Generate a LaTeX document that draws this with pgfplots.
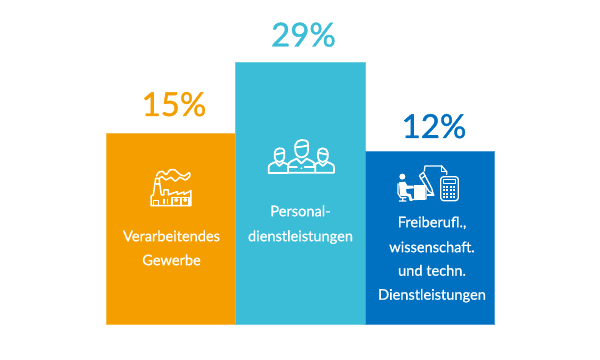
\documentclass[border=0pt]{standalone}
\usepackage{pgfplots}
\pgfplotsset{compat=1.18}
\usepackage{fontspec}
\setmainfont{Lato}
\definecolor{corange}{HTML}{F59E00}
\definecolor{ccyan}{HTML}{3BBDD8}
\definecolor{cblue}{HTML}{0070C0}
\newcommand{\cat}[2]{\node[text=white,font=\fontsize{14.6}{16}\selectfont\addfontfeature{FakeBold=0.8},anchor=center,inner sep=0pt] at (#1){\strut #2};}
\begin{document}
\begin{tikzpicture}[x=1pt,y=1pt]
\begin{axis}[
  at={(0pt,0pt)},anchor=south west,
  scale only axis,width=600pt,height=359pt,
  xmin=-1.3205,xmax=3.3127,ymin=-34.5,ymax=324.5,
  hide axis,clip=false,
  ybar,bar width=129.5pt,bar shift=0pt,
  nodes near coords,
  point meta=explicit symbolic,
  nodes near coords style={anchor=base,font=\fontsize{33}{36}\selectfont\addfontfeature{FakeBold=1.2},inner sep=0pt},
]
\addplot[fill=corange,draw=corange!70!white,line width=0.6pt,
  nodes near coords style={text=corange,xshift=3pt,yshift=17pt}]
  coordinates {(0,191.5) [15\%]};
\addplot[fill=ccyan,draw=ccyan!75!white,line width=0.6pt,
  nodes near coords style={text=ccyan,xshift=3pt,yshift=16pt}]
  coordinates {(1,262) [29\%]};
\addplot[fill=cblue,draw=cblue!70!white,line width=0.6pt,
  nodes near coords style={text=cblue,xshift=4pt,yshift=13.5pt}]
  coordinates {(2,173) [12\%]};
\end{axis}
\path (0pt,0pt) rectangle (600pt,359pt);
% category labels (pixel coordinates)
\begin{scope}[x=1pt,y=-1pt,shift={(0pt,359pt)}]
\cat{171.5,238}{Verarbeitendes}
\cat{171.5,262}{Gewerbe}
\cat{300.5,213}{Personal-}
\cat{300.5,238}{dienstleistungen}
\cat{432,224}{Freiberufl.,}
\cat{432,249}{wissenschaft.}
\cat{432,272.5}{und techn.}
\cat{432,296.5}{Dienstleistungen}
\end{scope}
% factory icon
\begin{scope}[x=0.3333pt,y=-0.3333pt,shift={(140pt,199pt)},draw=white,line width=1.5pt,line join=round,line cap=round]
\draw (33,137)--(33,108)--(40,105)--(47,55)--(57,55)--(64,105)--(72,105)--(72,90)--(85,90)--(85,105)--(88,103)--(112,95)--(112,103)--(132,96)--(132,103)--(153,92)--(153,137)--cycle;
\draw (48,72)--(58,72);
\draw (40,137)--(40,122)--(55,122)--(55,137);
\draw (72,118)--(72,130) (83,118)--(83,130);
\draw (96,137)--(96,112)--(122,112)--(122,137);
\draw (125,137)--(125,112)--(147,112)--(147,137);
\draw (109,120) circle (4);
\draw (136,120) circle (4);
\draw plot[smooth] coordinates {(50,48)(55,38)(68,34)(78,44)(90,30)(105,30)(118,42)(133,48)(147,38)(150,47)(136,60)(120,52)(106,63)(92,52)(78,60)(66,50)(58,55)};
\end{scope}
% people icon
\begin{scope}[x=0.3333pt,y=-0.3333pt,shift={(262pt,229pt)},draw=white,line width=1.8pt,line join=round,line cap=round]
\draw (100,45)--(100,62) to[out=-90,in=180] (118,82) to[out=0,in=-90] (138,62)--(138,40) to[out=90,in=0] (118,30) to[out=180,in=70] (100,45);
\draw (100,52)--(120,50)--(138,46);
\draw (78,128)--(78,108) to[out=90,in=210] (104,86)--(118,100)--(134,86) to[out=-30,in=90] (160,108)--(160,128)--cycle;
\draw (78,112)--(105,112) (128,112)--(160,112);
\fill[white] (118,115) circle (3);
\draw (38,68)--(38,82) to[out=-90,in=180] (52,96) to[out=0,in=-90] (67,82)--(67,62) to[out=90,in=0] (52,55) to[out=180,in=80] (38,68);
\draw (38,74)--(67,68);
\draw (20,128)--(20,112) to[out=90,in=210] (40,96)--(52,108)--(64,97) to[out=-20,in=140] (80,105);
\draw (20,128)--(78,128);
\draw (168,68)--(168,82) to[out=-90,in=180] (182,96) to[out=0,in=-90] (197,82)--(197,68) to[out=90,in=0] (182,55) to[out=180,in=100] (168,68);
\draw (168,68)--(197,74);
\draw (160,128)--(216,128)--(216,112) to[out=90,in=-30] (196,96)--(182,108)--(170,97) to[out=200,in=40] (155,105);
\end{scope}
% office icon
\begin{scope}[x=0.3333pt,y=-0.3333pt,shift={(390pt,204pt)},draw=white,line width=1.3pt,line join=round,line cap=round]
\fill[white] (37,65) circle (9);
\fill[white] (27,82)--(45,80)--(52,92)--(70,92)--(72,100)--(48,102)--(50,115)--(62,117)--(68,138)--(60,138)--(55,124)--(30,122)--cycle;
\draw (24,86)--(24,115)--(32,128)--(48,128) (38,128)--(38,138) (28,138)--(48,138);
\fill[white] (72,90) rectangle (105,135);
\draw (108,92)--(108,132)--(60,134);
\draw (88,62)--(100,52)--(125,100)--(130,118)--(116,108)--cycle;
\draw (92,72)--(106,62);
\draw (103,48)--(105,33)--(155,33)--(170,50)--(170,58);
\draw (155,33)--(155,50)--(170,50);
\draw (112,120)--(132,120);
\draw[rounded corners=3pt] (152,65) rectangle (205,137);
\draw (160,73) rectangle (196,86);
\foreach \yy in {96,106,116,126}{\foreach \xx in {162,172,182,192}{\fill[white] (\xx-3,\yy-3) rectangle (\xx+3,\yy+3);}}
\end{scope}
\end{tikzpicture}
\end{document}
